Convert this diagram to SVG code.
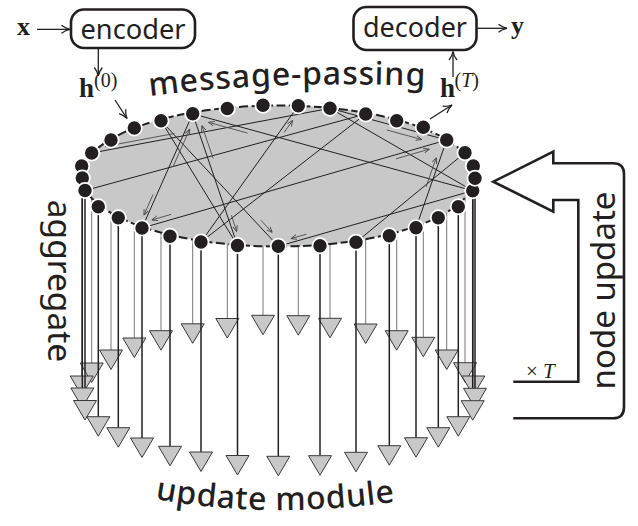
<svg xmlns="http://www.w3.org/2000/svg" xmlns:xlink="http://www.w3.org/1999/xlink" width="638" height="526" viewBox="0 0 638 526">
<style>
.lbl{font-family:"Noto Sans","Liberation Sans",sans-serif;fill:#231f20}
.math{font-family:"Liberation Serif","DejaVu Serif",serif;fill:#231f20}
.box{fill:#fff;stroke:#231f20;stroke-width:2.6}
.con{fill:none;stroke:#231f20;stroke-width:1.3}
.edge{fill:none;stroke:#231f20;stroke-width:1}
.msg{fill:none;stroke:#4a4a4a;stroke-width:0.9}
.vf{stroke:#231f20;stroke-width:1.5}
.vb{stroke:#777;stroke-width:1}
.tri{fill:#c8c8c8;stroke:#3a3a3a;stroke-width:1}
.dot{fill:#231f20;stroke:#fff;stroke-width:1.8}
</style>
<defs>
<marker id="ar" viewBox="0 0 10 10" refX="9.5" refY="5" markerWidth="10" markerHeight="10" markerUnits="userSpaceOnUse" orient="auto">
<path d="M1,1 Q5,4.2 9.5,5 Q5,5.8 1,9" fill="none" stroke="#231f20" stroke-width="1.3"/>
</marker>
<marker id="sa" viewBox="0 0 6 6" refX="6" refY="3" markerWidth="6" markerHeight="6" markerUnits="userSpaceOnUse" orient="auto">
<path d="M0,0.6 L6,3 L0,5.4" fill="none" stroke="#4a4a4a" stroke-width="0.9"/>
</marker>
<path id="tri" class="tri" d="M-11.5,0 H11.5 L0,19.5 Z"/>
<circle id="nd" class="dot" r="7.6"/>
<path id="mp" d="M150,96 Q275,80 425,86"/>
<path id="um" d="M155,499 Q270,520 400,501"/>
</defs>
<rect width="638" height="526" fill="#fff"/>

<g id="back-update">
<g>
<line class="vb" x1="81.7" y1="166" x2="81.7" y2="376"/>
<line class="vb" x1="91.7" y1="153" x2="91.7" y2="363"/>
<line class="vb" x1="111" y1="140" x2="111" y2="350"/>
<line class="vb" x1="134.3" y1="128" x2="134.3" y2="338"/>
<line class="vb" x1="161" y1="120.7" x2="161" y2="330.7"/>
<line class="vb" x1="192.7" y1="113.8" x2="192.7" y2="323.8"/>
<line class="vb" x1="227.3" y1="108.5" x2="227.3" y2="318.5"/>
<line class="vb" x1="263" y1="105.3" x2="263" y2="315.3"/>
<line class="vb" x1="298.3" y1="105.7" x2="298.3" y2="315.7"/>
<line class="vb" x1="330" y1="108.3" x2="330" y2="318.3"/>
<line class="vb" x1="365.7" y1="114" x2="365.7" y2="324"/>
<line class="vb" x1="396.7" y1="120.7" x2="396.7" y2="330.7"/>
<line class="vb" x1="423.3" y1="127.3" x2="423.3" y2="337.3"/>
<line class="vb" x1="446.7" y1="140" x2="446.7" y2="350"/>
<line class="vb" x1="465" y1="152.7" x2="465" y2="362.7"/>
<line class="vb" x1="473.3" y1="166" x2="473.3" y2="376"/>
</g>
<use href="#tri" x="91.7" y="363"/>
<use href="#tri" x="111" y="350"/>
<use href="#tri" x="134.3" y="338"/>
<use href="#tri" x="161" y="330.7"/>
<use href="#tri" x="192.7" y="323.8"/>
<use href="#tri" x="227.3" y="318.5"/>
<use href="#tri" x="263" y="315.3"/>
<use href="#tri" x="298.3" y="315.7"/>
<use href="#tri" x="330" y="318.3"/>
<use href="#tri" x="365.7" y="324"/>
<use href="#tri" x="396.7" y="330.7"/>
<use href="#tri" x="423.3" y="337.3"/>
<use href="#tri" x="446.7" y="350"/>
<use href="#tri" x="465" y="362.7"/>
<use href="#tri" x="81.7" y="376"/>
<use href="#tri" x="473.3" y="376"/>
</g>

<g id="graph">
<ellipse cx="278.3" cy="176" rx="196.5" ry="70.5" fill="#c8c8c8" stroke="#231f20" stroke-width="2" stroke-dasharray="9 3.5"/>
</g>

<g id="connectors">
<g id="edges">
<line class="edge" x1="91.7" y1="153" x2="330" y2="108.3"/>
<line class="edge" x1="85" y1="190.5" x2="365.7" y2="114"/>
<line class="edge" x1="161" y1="120.7" x2="237.5" y2="245.5"/>
<line class="edge" x1="161" y1="120.7" x2="278.3" y2="246.3"/>
<line class="edge" x1="192.7" y1="113.8" x2="237.5" y2="245.5"/>
<line class="edge" x1="192.7" y1="113.8" x2="142" y2="228"/>
<line class="edge" x1="298.3" y1="105.7" x2="201" y2="242"/>
<line class="edge" x1="142" y1="228" x2="446.7" y2="140"/>
<line class="edge" x1="192.7" y1="113.8" x2="472.7" y2="190.7"/>
<line class="edge" x1="330" y1="108.3" x2="472.7" y2="190.7"/>
<line class="edge" x1="356" y1="242.3" x2="465" y2="152.7"/>
<line class="edge" x1="416" y1="227.7" x2="446.7" y2="140"/>
<line class="edge" x1="278.3" y1="246.3" x2="472.7" y2="190.7"/>
<line class="edge" x1="330" y1="108.3" x2="446.7" y2="140"/>
<line class="edge" x1="201" y1="242" x2="365.7" y2="114"/>
</g>
<g id="messages">
<line class="msg" marker-end="url(#sa)" x1="174.4" y1="133.5" x2="105.3" y2="146.4"/>
<line class="msg" marker-end="url(#sa)" x1="173.1" y1="166.6" x2="189.8" y2="128.9"/>
<line class="msg" marker-end="url(#sa)" x1="153" y1="194.6" x2="143.9" y2="215.2"/>
<line class="msg" marker-end="url(#sa)" x1="213.1" y1="158.3" x2="201.9" y2="125.4"/>
<line class="msg" marker-end="url(#sa)" x1="231.4" y1="215.2" x2="236.7" y2="231.7"/>
<line class="msg" marker-end="url(#sa)" x1="260.9" y1="220.3" x2="272.3" y2="232.5"/>
<line class="msg" marker-end="url(#sa)" x1="171.1" y1="214.4" x2="151.7" y2="220"/>
<line class="msg" marker-end="url(#sa)" x1="396" y1="158.8" x2="429.5" y2="149.1"/>
<line class="msg" marker-end="url(#sa)" x1="386.8" y1="130" x2="421.8" y2="139.5"/>
<line class="msg" marker-end="url(#sa)" x1="284.1" y1="132.5" x2="292.8" y2="120.3"/>
<line class="msg" marker-end="url(#sa)" x1="306.4" y1="234.2" x2="290.9" y2="238.6"/>
<line class="msg" marker-end="url(#sa)" x1="426" y1="186.9" x2="436.3" y2="157.6"/>
<line class="msg" marker-end="url(#sa)" x1="247.6" y1="133.1" x2="208.4" y2="122.3"/>
</g>
<line class="con" marker-end="url(#ar)" x1="37" y1="29.3" x2="70" y2="29.3"/>
<line class="con" marker-end="url(#ar)" x1="98.3" y1="48.5" x2="98.3" y2="76"/>
<line class="con" marker-end="url(#ar)" x1="115" y1="100" x2="127" y2="118.5"/>
<line class="con" marker-end="url(#ar)" x1="430" y1="119" x2="452" y2="105"/>
<line class="con" marker-end="url(#ar)" x1="453" y1="77" x2="453" y2="51.5"/>
<line class="con" marker-end="url(#ar)" x1="477" y1="28.3" x2="507" y2="28.3"/>
</g>

<g id="back-nodes">
<use id="n1" href="#nd" x="81.7" y="166"/>
<use id="n2" href="#nd" x="91.7" y="153"/>
<use id="n3" href="#nd" x="111" y="140"/>
<use id="n4" href="#nd" x="134.3" y="128"/>
<use id="n5" href="#nd" x="161" y="120.7"/>
<use id="n6" href="#nd" x="192.7" y="113.8"/>
<use id="n7" href="#nd" x="227.3" y="108.5"/>
<use id="n8" href="#nd" x="263" y="105.3"/>
<use id="n9" href="#nd" x="298.3" y="105.7"/>
<use id="n10" href="#nd" x="330" y="108.3"/>
<use id="n11" href="#nd" x="365.7" y="114"/>
<use id="n12" href="#nd" x="396.7" y="120.7"/>
<use id="n13" href="#nd" x="423.3" y="127.3"/>
<use id="n14" href="#nd" x="446.7" y="140"/>
<use id="n15" href="#nd" x="465" y="152.7"/>
<use id="n16" href="#nd" x="473.3" y="166"/>
</g>

<g id="front-update">
<g>
<line class="vf" x1="82.3" y1="178" x2="82.3" y2="388"/>
<line class="vf" x1="85" y1="190.5" x2="85" y2="400.5"/>
<line class="vf" x1="98.3" y1="206.7" x2="98.3" y2="416.7"/>
<line class="vf" x1="118.3" y1="217.7" x2="118.3" y2="427.7"/>
<line class="vf" x1="142" y1="228" x2="142" y2="438"/>
<line class="vf" x1="170" y1="236.3" x2="170" y2="446.3"/>
<line class="vf" x1="201" y1="242" x2="201" y2="452"/>
<line class="vf" x1="237.5" y1="245.5" x2="237.5" y2="455.5"/>
<line class="vf" x1="278.3" y1="246.3" x2="278.3" y2="456.3"/>
<line class="vf" x1="320" y1="245.7" x2="320" y2="455.7"/>
<line class="vf" x1="356" y1="242.3" x2="356" y2="452.3"/>
<line class="vf" x1="389.3" y1="235.7" x2="389.3" y2="445.7"/>
<line class="vf" x1="416" y1="227.7" x2="416" y2="437.7"/>
<line class="vf" x1="438.3" y1="217.7" x2="438.3" y2="427.7"/>
<line class="vf" x1="458.3" y1="206.7" x2="458.3" y2="416.7"/>
<line class="vf" x1="472.7" y1="190.7" x2="472.7" y2="400.7"/>
<line class="vf" x1="475" y1="178.3" x2="475" y2="388.3"/>
</g>
<use href="#tri" x="82.3" y="388"/>
<use href="#tri" x="475" y="388.3"/>
<use href="#tri" x="85" y="400.5"/>
<use href="#tri" x="472.7" y="400.7"/>
<use href="#tri" x="98.3" y="416.7"/>
<use href="#tri" x="458.3" y="416.7"/>
<use href="#tri" x="118.3" y="427.7"/>
<use href="#tri" x="438.3" y="427.7"/>
<use href="#tri" x="142" y="438"/>
<use href="#tri" x="416" y="437.7"/>
<use href="#tri" x="170" y="446.3"/>
<use href="#tri" x="389.3" y="445.7"/>
<use href="#tri" x="201" y="452"/>
<use href="#tri" x="356" y="452.3"/>
<use href="#tri" x="237.5" y="455.5"/>
<use href="#tri" x="320" y="455.7"/>
<use href="#tri" x="278.3" y="456.3"/>
</g>
<g id="front-nodes">
<use id="n17" href="#nd" x="82.3" y="178"/>
<use id="n18" href="#nd" x="85" y="190.5"/>
<use id="n19" href="#nd" x="98.3" y="206.7"/>
<use id="n20" href="#nd" x="118.3" y="217.7"/>
<use id="n21" href="#nd" x="142" y="228"/>
<use id="n22" href="#nd" x="170" y="236.3"/>
<use id="n23" href="#nd" x="201" y="242"/>
<use id="n24" href="#nd" x="237.5" y="245.5"/>
<use id="n25" href="#nd" x="278.3" y="246.3"/>
<use id="n26" href="#nd" x="320" y="245.7"/>
<use id="n27" href="#nd" x="356" y="242.3"/>
<use id="n28" href="#nd" x="389.3" y="235.7"/>
<use id="n29" href="#nd" x="416" y="227.7"/>
<use id="n30" href="#nd" x="438.3" y="217.7"/>
<use id="n31" href="#nd" x="458.3" y="206.7"/>
<use id="n32" href="#nd" x="472.7" y="190.7"/>
<use id="n33" href="#nd" x="475" y="178.3"/>
</g>

<g id="encoder">
<rect class="box" x="71" y="9.5" width="124" height="38.5" rx="13"/>
<text class="lbl" x="133" y="38.5" font-size="27" text-anchor="middle" textLength="105" lengthAdjust="spacingAndGlyphs">encoder</text>
</g>
<g id="decoder">
<rect class="box" x="353.5" y="7" width="123" height="43" rx="13"/>
<text class="lbl" x="415" y="37" font-size="27" text-anchor="middle" textLength="104" lengthAdjust="spacingAndGlyphs">decoder</text>
</g>

<g id="math">
<text class="math" x="17" y="35" font-size="26" font-weight="bold">x</text>
<text class="math" x="511" y="34" font-size="26" font-weight="bold">y</text>
<text class="math" x="79" y="97" font-size="27" font-weight="bold">h</text>
<text class="math" x="94" y="87" font-size="20">(0)</text>
<text class="math" x="440" y="97" font-size="27" font-weight="bold">h</text>
<text class="math" x="454.5" y="87" font-size="20">(<tspan font-style="italic">T</tspan>)</text>
<text class="math" x="526" y="378" font-size="21">×<tspan x="543" font-style="italic">T</tspan></text>
</g>

<g id="node-update">
<path d="M513.3,418.3 H613 Q624,418.3 624,407 V174 Q624,163.3 613,163.3 H553.3 V151.7 L493.3,181.7 L553.3,211.7 V200 H578.3 V381.7 H513.3" fill="none" stroke="#231f20" stroke-width="2.6" stroke-linejoin="miter"/>
<text class="lbl" transform="translate(615,290.5) rotate(-90)" font-size="33" text-anchor="middle">node update</text>
</g>

<g id="labels">
<text class="lbl" font-size="32" font-weight="500" letter-spacing="0.8"><textPath href="#mp">message-passing</textPath></text>
<text class="lbl" transform="translate(48,281) rotate(90)" font-size="33.5" text-anchor="middle">aggregate</text>
<text class="lbl" font-size="32" font-weight="500" letter-spacing="0.6"><textPath href="#um">update module</textPath></text>
</g>
</svg>
